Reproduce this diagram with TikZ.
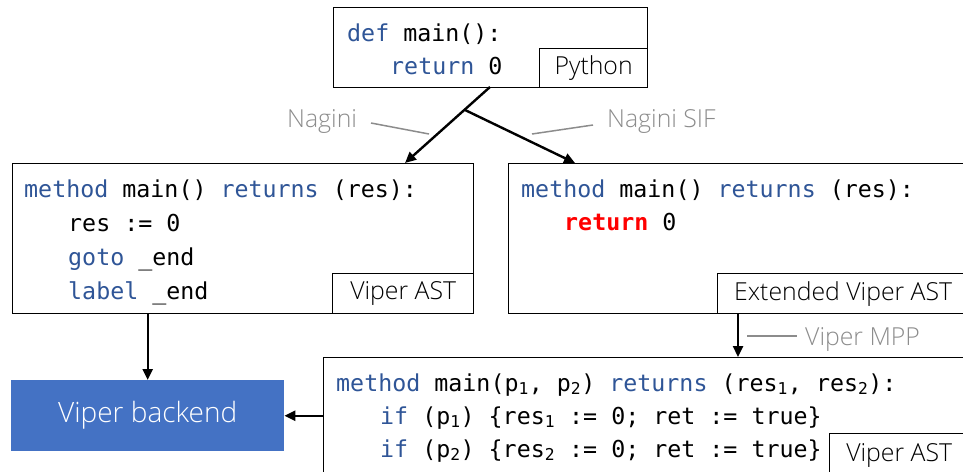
\documentclass[tikz,border=0pt]{standalone}
\usepackage{fontspec}
\usepackage{xcolor}
\usetikzlibrary{arrows.meta}
\newfontfamily\codefont{DejaVu Sans Mono}
\newfontfamily\lblfont{Open Sans Light}
\definecolor{kw}{HTML}{2F5597}
\definecolor{notegray}{HTML}{8C8C8C}
\definecolor{leadgray}{HTML}{8C8C8C}
\definecolor{backblue}{HTML}{4472C4}
\newcommand{\cf}{\codefont\fontsize{23.3}{28}\selectfont}
\newcommand{\lf}{\lblfont\fontsize{24.8}{28}\selectfont}
\newcommand{\kw}[1]{\textcolor{kw}{#1}}
\tikzset{
  box/.style={draw, line width=1.3pt, fill=white, inner sep=0pt, anchor=north west},
  tag/.style={draw, line width=1.3pt, fill=white, inner sep=0pt, anchor=south east, font=\lf, text=black},
  code/.style={anchor=base west, inner sep=0pt, font=\cf},
  arr/.style={line width=2.4pt, -{Triangle[length=11pt,width=10pt]}},
  lead/.style={draw=leadgray, line width=1.5pt},
  note/.style={anchor=base west, inner sep=0pt, text=notegray, font=\lf}
}
\begin{document}
\begin{tikzpicture}[x=1pt,y=-1pt]
\useasboundingbox (0,0) rectangle (963,471);
\clip (0,0) rectangle (963,471);
% Python box
\node[box, minimum width=314pt, minimum height=80pt] (py) at (333,7) {};
\node[tag, minimum width=108pt, minimum height=39pt] (pytag) at (py.south east) {Python};
\node[code] (py1) at (347,41) {\kw{def} main():};
\node[code] (py2) at (390,74) {\kw{return} 0};
% Left Viper AST box
\node[box, minimum width=461pt, minimum height=150pt] (lt) at (12,163) {};
\node[tag, minimum width=141pt, minimum height=40pt] (lttag) at (lt.south east) {Viper AST};
\node[code] (lt1) at (24,197) {\kw{method} main() \kw{returns} (res):};
\node[code] (lt2) at (68,231) {res := 0};
\node[code] (lt3) at (68,265) {\kw{goto} \_end};
\node[code] (lt4) at (68,299) {\kw{label} \_end};
% Right extended box
\node[box, minimum width=460pt, minimum height=150pt] (rt) at (508,163) {};
\node[tag, minimum width=251pt, minimum height=40pt] (rttag) at (rt.south east) {Extended Viper AST};
\node[code] (rt1) at (521,197) {\kw{method} main() \kw{returns} (res):};
\node[code] (rt2) at (564,230) {\textcolor{red}{\bfseries return} 0};
% Bottom box
\node[box, minimum width=645pt, minimum height=119pt] (bt) at (323,357) {};
\node[tag, minimum width=139pt, minimum height=43pt] (bttag) at (bt.south east) {Viper AST};
\node[code] (bt1) at (336,391) {\kw{method} main(p\textsubscript{1}, p\textsubscript{2}) \kw{returns} (res\textsubscript{1}, res\textsubscript{2}):};
\node[code] (bt2) at (380,424) {\kw{if} (p\textsubscript{1}) \{res\textsubscript{1} := 0; ret := true\}};
\node[code] (bt3) at (380,457) {\kw{if} (p\textsubscript{2}) \{res\textsubscript{2} := 0; ret := true\}};
% Backend
\node[fill=backblue, inner sep=0pt, anchor=north west, minimum width=273pt, minimum height=71pt,
      text=white, font=\lblfont\fontsize{28}{30}\selectfont] (bk) at (11,380) {Viper backend};
% connectors
\coordinate (pyout) at (490,87);
\coordinate (fork) at (465,110);
\coordinate (ltin) at (405,163);
\coordinate (rtin) at (575,163);
\coordinate (rtout) at (738,313);
\coordinate (btin) at (738,357);
\draw[arr] (pyout) -- (ltin);
\draw[arr] (fork) -- (rtin);
\draw[arr] (lt.south -| bk.north) -- (bk.north);
\draw[arr] (rtout) -- (btin);
\draw[arr] (bt.west |- bk.east) -- (bk.east);
% notes
\node[note] (nag) at (287,127) {Nagini};
\node[note] (nagsif) at (607,127) {Nagini SIF};
\node[note] (mpp) at (805,345) {Viper MPP};
\coordinate (l1a) at (371,123); \coordinate (l1b) at (429,134);
\coordinate (l2a) at (532,134); \coordinate (l2b) at (593,125);
\coordinate (l3a) at (747,336); \coordinate (l3b) at (797,336);
\draw[lead] (l1a) -- (l1b);
\draw[lead] (l2a) -- (l2b);
\draw[lead] (l3a) -- (l3b);
\end{tikzpicture}
\end{document}
